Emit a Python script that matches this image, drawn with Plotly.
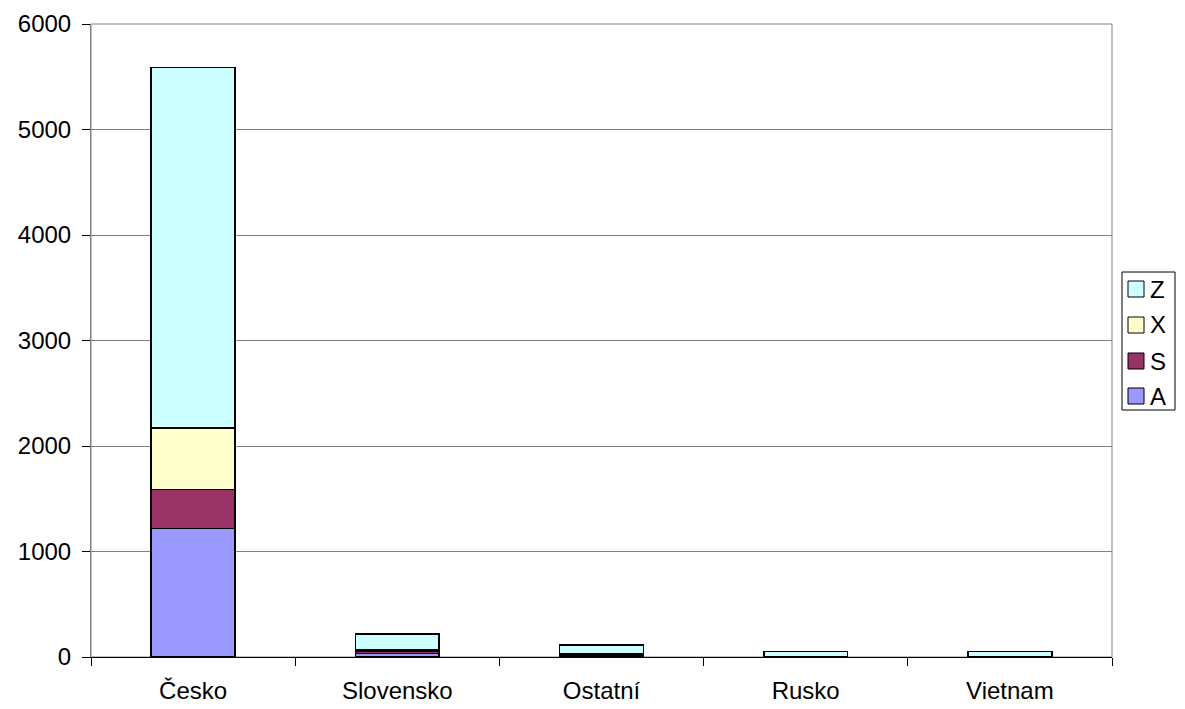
import plotly.graph_objects as go

categories = ["Česko", "Slovensko", "Ostatní", "Rusko", "Vietnam"]
A = [1220, 35, 15, 3, 3]
S = [370, 20, 10, 2, 2]
X = [580, 15, 8, 1, 1]
Z = [3420, 150, 80, 44, 44]
series = [("A", A, "#9999FF"), ("S", S, "#993366"), ("X", X, "#FFFFCC"), ("Z", Z, "#CCFFFF")]

W, H = 1177, 701          # page body has an 8px margin, figure drawn 8px in
ML, MR, MT, MB = 83, 73, 16, 52
PW, PH = W - ML - MR, H - MT - MB

def px(xp):   # figure pixel x -> paper
    return (xp - ML) / PW

def py(yp):   # figure pixel y (from top) -> paper
    return (H - MB - yp) / PH

fig = go.Figure()
for name, vals, col in series:
    fig.add_trace(go.Bar(x=categories, y=vals, name=name, showlegend=False,
                         marker=dict(color=col, line=dict(color="black", width=1.5))))

fig.update_layout(
    barmode="stack", bargap=0.59,
    width=W, height=H,
    margin=dict(l=ML, r=MR, t=MT, b=MB, autoexpand=False),
    paper_bgcolor="white", plot_bgcolor="white",
    font=dict(family="Liberation Sans, Arial", size=24, color="black"),
    showlegend=False,
)
fig.update_xaxes(showline=True, linecolor="black", linewidth=1, ticks="outside", tickson="boundaries",
                 ticklen=8, tickcolor="black", mirror=False, automargin=False, ticklabelstandoff=12)
fig.update_yaxes(range=[0, 6000], dtick=1000, showgrid=True, gridcolor="#808080", gridwidth=1,
                 showline=True, linecolor="#808080", ticks="outside", ticklen=8, tickcolor="black",
                 zeroline=False, automargin=False, ticklabelstandoff=6)
fig.add_shape(type="rect", xref="paper", yref="paper", x0=0, x1=1, y0=0, y1=1,
              line=dict(color="#808080", width=1), layer="below")

# legend box (drawn manually to match the compact reference legend)
fig.add_shape(type="rect", xref="paper", yref="paper", x0=px(1114), x1=px(1167), y0=py(402), y1=py(264),
              line=dict(color="black", width=1), fillcolor="white")
item_y = [388, 353, 317, 281]  # A, S, X, Z in figure pixels
for (name, _, col), cy in zip(series, item_y):
    fig.add_shape(type="rect", xref="paper", yref="paper", x0=px(1120), x1=px(1136),
                  y0=py(cy + 8), y1=py(cy - 8), line=dict(color="black", width=1), fillcolor=col)
    fig.add_annotation(xref="paper", yref="paper", x=px(1140), y=py(cy), text=name, showarrow=False,
                       xanchor="left", yanchor="middle", font=dict(size=24, color="black"))

fig.write_html("out.html")
